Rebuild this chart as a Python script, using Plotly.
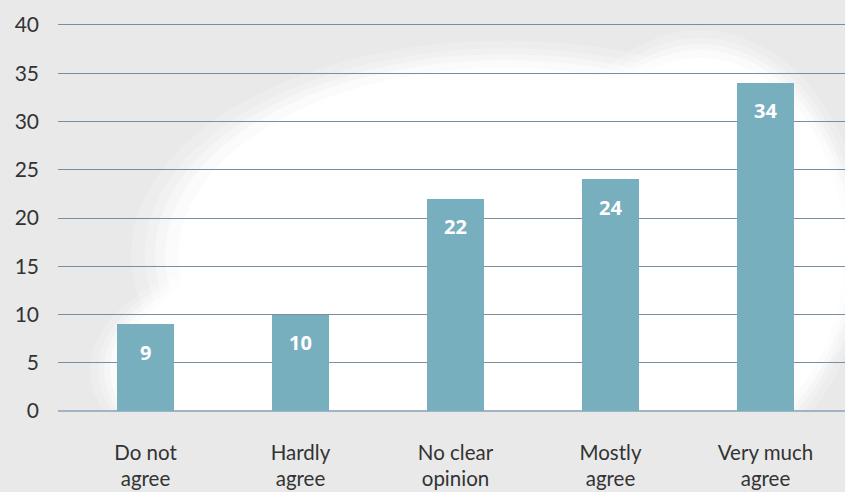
import plotly.graph_objects as go

categories = ["Do not<br>agree", "Hardly<br>agree", "No clear<br>opinion", "Mostly<br>agree", "Very much<br>agree"]
values = [9, 10, 22, 24, 34]
y_ticks = [0, 5, 10, 15, 20, 25, 30, 35, 40]

BAR = "#78afbf"
GRID = "#7a8ea3"
TEXT = "#333333"
BG = "#e9e9e9"

L, T, W, H = 58, 22, 787, 389


def px(x):
    return (x - L) / W


def py(y):
    return (T + H - y) / H


fig = go.Figure()
fig.add_trace(go.Bar(
    x=list(range(len(categories))), y=values,
    marker=dict(color=BAR, line=dict(width=0)),
    width=0.368, hoverinfo="skip",
))

for i, v in enumerate(values):
    fig.add_annotation(x=i, y=v, text=f"<b>{v}</b>", showarrow=False,
                       yshift=-28, font=dict(family="Open Sans", size=20, color="white"))

# soft white cloud in the background (approximating the paper texture)
shapes = []
blobs = [(505, 255, 340, 195), (310, 370, 200, 110), (700, 250, 150, 200)]
for scale, op in [(1.10, 0.18), (1.06, 0.25), (1.03, 0.35), (1.0, 0.6), (0.96, 1.0)]:
    for cx, cy, rx, ry in blobs:
        shapes.append(dict(type="circle", xref="paper", yref="paper", layer="below",
                           x0=px(cx - rx * scale), x1=px(cx + rx * scale),
                           y0=py(cy + ry * scale), y1=py(cy - ry * scale),
                           fillcolor="white", opacity=op, line=dict(width=0)))
# gray below the axis
shapes.append(dict(type="rect", xref="paper", yref="paper", layer="below",
                   x0=-0.2, x1=1.2, y0=-0.5, y1=0, fillcolor=BG, line=dict(width=0)))

fig.update_layout(
    width=845, height=492,
    margin=dict(l=L, r=845 - L - W, t=T, b=492 - T - H),
    paper_bgcolor=BG,
    plot_bgcolor="rgba(0,0,0,0)",
    showlegend=False,
    shapes=shapes,
    bargap=0,
    font=dict(family="Lato", color=TEXT),
    xaxis=dict(
        tickmode="array", tickvals=list(range(len(categories))), ticktext=categories,
        range=[-0.5645, 4.513], showgrid=False, zeroline=False, showline=False,
        tickfont=dict(family="Lato", size=20.5, color=TEXT), ticks="", ticklen=0,
        ticklabelstandoff=27,
    ),
    yaxis=dict(
        range=[0, 40.31], tickvals=y_ticks, showgrid=True, gridcolor=GRID, gridwidth=1,
        zeroline=True, zerolinecolor="#a3b3c3", zerolinewidth=2, showline=False,
        tickfont=dict(family="Lato", size=21, color=TEXT), ticks="", ticklabelstandoff=18,
    ),
)

fig.write_html("out.html", config={"displayModeBar": False},
               post_script="document.body.style.margin='0';")
